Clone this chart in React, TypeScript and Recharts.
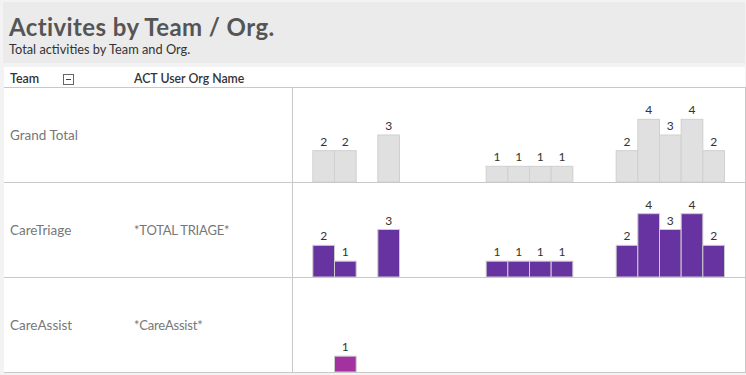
import React from 'react';
import { BarChart, Bar, XAxis, YAxis, LabelList } from 'recharts';

// 21 period slots along the bar axis (no labels shown in the reference)
const slots = ['S1','S2','S3','S4','S5','S6','S7','S8','S9','S10','S11','S12','S13','S14','S15','S16','S17','S18','S19','S20','S21'];

const grandTotal = [null, 2, 2, null, 3, null, null, null, null, 1, 1, 1, 1, null, null, 2, 4, 3, 4, 2, null];
const careTriage = [null, 2, 1, null, 3, null, null, null, null, 1, 1, 1, 1, null, null, 2, 4, 3, 4, 2, null];
const careAssist = [null, null, 1, null, null, null, null, null, null, null, null, null, null, null, null, null, null, null, null, null, null];

const teams = ['Grand Total', 'CareTriage', 'CareAssist'];
const orgs = ['', '*TOTAL TRIAGE*', '*CareAssist*'];

const title = 'Activites by Team / Org.';
const subtitle = 'Total activities by Team and Org.';

const FONT = 'Lato, "Open Sans", sans-serif';
const LINE = '#c8c8c8';
const W = 455;
const SLOT_W = W / slots.length;

type RowProps = { values: (number | null)[]; fill: string; stroke: string; top: number; height: number };

function FullBar(props: any) {
  const { x, y, width, height, fill, stroke } = props;
  if (height == null || height <= 0 || x == null) return null;
  const cx = x + width / 2;
  return <rect x={cx - SLOT_W / 2} y={y} width={SLOT_W} height={height} fill={fill} stroke={stroke} strokeWidth={1} />;
}

function RowChart({ values, fill, stroke, top, height }: RowProps) {
  const data = slots.map((s, i) => ({ slot: s, value: values[i] }));
  return (
    <div style={{ position: 'absolute', left: 291, top, width: W, height }}>
      <BarChart width={W} height={height} data={data} margin={{ top: 0, right: 0, bottom: 0, left: 0 }} barCategoryGap={0}>
        <XAxis dataKey="slot" hide />
        <YAxis hide domain={[0, 6]} />
        <Bar dataKey="value" fill={fill} stroke={stroke} shape={<FullBar />} isAnimationActive={false}>
          <LabelList
            dataKey="value"
            position="top"
            offset={5}
            fill="#333"
            fontSize={12}
            fontFamily={FONT}
            formatter={(v: any) => (v == null ? '' : v)}
          />
        </Bar>
      </BarChart>
    </div>
  );
}

const rowTops = [88, 182, 277];
const rowHeights = [94, 95, 95];
const rowSeries = [
  { values: grandTotal, fill: '#e0e0e0', stroke: '#d0d0d0' },
  { values: careTriage, fill: '#6733a0', stroke: '#cccccc' },
  { values: careAssist, fill: '#a3319f', stroke: '#cccccc' },
];

export default function App() {
  return (
    <div style={{ position: 'absolute', left: 0, top: 0, width: 746, height: 375, background: '#f3f3f3', overflow: 'hidden', fontFamily: FONT }}>
      {/* title band */}
      <div style={{ position: 'absolute', left: 3, top: 2, width: 742, height: 61, background: '#ebebeb' }} />
      <div style={{ position: 'absolute', left: 9, top: 13, fontSize: 24, fontWeight: 700, color: '#555', lineHeight: '28px', letterSpacing: 0.4, whiteSpace: 'nowrap' }}>{title}</div>
      <div style={{ position: 'absolute', left: 9, top: 41, fontSize: 12.8, color: '#333', lineHeight: '16px', whiteSpace: 'nowrap' }}>{subtitle}</div>

      {/* table area */}
      <div style={{ position: 'absolute', left: 4, top: 67, width: 741, height: 305, background: '#fff' }} />
      <div style={{ position: 'absolute', left: 10, top: 71, fontSize: 12.5, fontWeight: 600, color: '#333', lineHeight: '16px' }}>Team</div>
      <div style={{ position: 'absolute', left: 63, top: 74, width: 9, height: 9, border: '1px solid #666', background: '#fff' }}>
        <div style={{ position: 'absolute', left: 2, top: 4, width: 5, height: 1, background: '#444' }} />
      </div>
      <div style={{ position: 'absolute', left: 134, top: 71, fontSize: 12.3, fontWeight: 600, color: '#333', lineHeight: '16px', whiteSpace: 'nowrap' }}>ACT User Org Name</div>

      {/* grid lines */}
      <div style={{ position: 'absolute', left: 4, top: 87, width: 741, height: 1, background: LINE }} />
      <div style={{ position: 'absolute', left: 4, top: 182, width: 741, height: 1, background: LINE }} />
      <div style={{ position: 'absolute', left: 4, top: 277, width: 741, height: 1, background: LINE }} />
      <div style={{ position: 'absolute', left: 4, top: 372, width: 741, height: 1, background: LINE }} />
      <div style={{ position: 'absolute', left: 292, top: 87, width: 1, height: 286, background: LINE }} />
      <div style={{ position: 'absolute', left: 745, top: 87, width: 1, height: 286, background: LINE }} />

      {teams.map((t, i) => (
        <React.Fragment key={t}>
          <div style={{ position: 'absolute', left: 10, top: rowTops[i] + rowHeights[i] / 2 - 8, fontSize: 13.5, color: '#777', lineHeight: '16px', whiteSpace: 'nowrap' }}>{t}</div>
          <div style={{ position: 'absolute', left: 134, top: rowTops[i] + rowHeights[i] / 2 - 8, fontSize: 13, color: '#777', lineHeight: '16px', letterSpacing: -0.2, whiteSpace: 'nowrap' }}>{orgs[i]}</div>
        </React.Fragment>
      ))}

      {rowSeries.map((r, i) => (
        <RowChart key={i} values={r.values} fill={r.fill} stroke={r.stroke} top={rowTops[i]} height={rowHeights[i]} />
      ))}
    </div>
  );
}
